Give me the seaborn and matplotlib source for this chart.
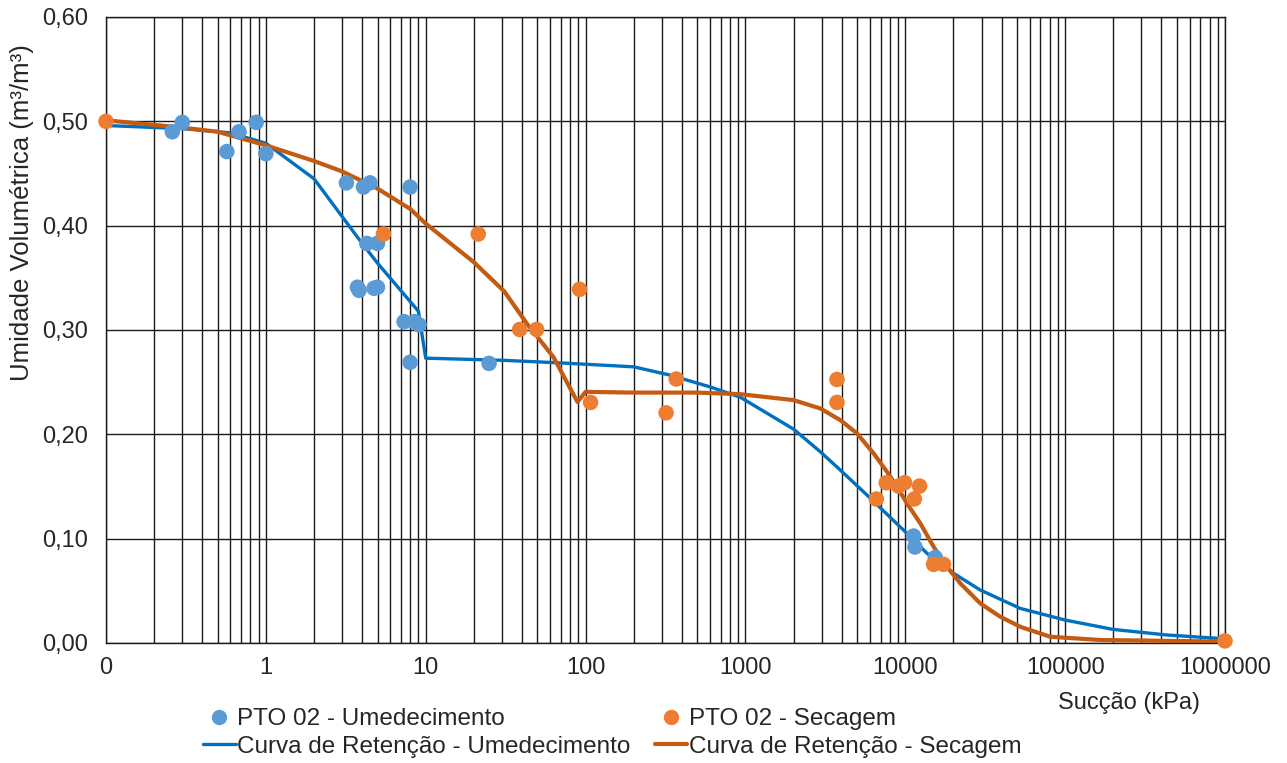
import numpy as np
import pandas as pd
import matplotlib
matplotlib.use("Agg")
import matplotlib.pyplot as plt
import seaborn as sns
from matplotlib.ticker import FixedLocator, FixedFormatter, LogLocator, NullFormatter
from matplotlib.lines import Line2D

# ---- data ----
umed_x = [0.26, 0.30, 0.57, 0.68, 0.87, 1.0, 3.19, 4.08, 4.48, 7.98, 4.28, 4.99,
          3.74, 3.83, 4.75, 4.99, 7.32, 8.53, 9.08, 7.98, 24.9, 11270, 11490, 15400]
umed_y = [0.490, 0.499, 0.471, 0.490, 0.499, 0.469, 0.441, 0.437, 0.441, 0.437, 0.383, 0.383,
          0.341, 0.338, 0.340, 0.341, 0.308, 0.308, 0.305, 0.269, 0.268, 0.1025, 0.092, 0.082]

sec_x = [0.1, 5.44, 21.3, 38.7, 49.4, 91.7, 107.5, 319, 369, 3740, 3740,
         6590, 7600, 9080, 9900, 11380, 12280, 15030, 17340, 1000000]
sec_y = [0.500, 0.392, 0.392, 0.3005, 0.3005, 0.339, 0.2306, 0.2206, 0.253, 0.2526, 0.2306,
         0.138, 0.1536, 0.1504, 0.1536, 0.138, 0.1504, 0.0754, 0.0754, 0.002]

curva_umed_x = [0.1, 0.3, 0.6, 1.0, 2.0, 4.0, 5.0, 9.0, 10, 30, 69, 200, 339, 600,
                930, 2000, 2940, 3925, 5760, 10250, 13670, 20050, 29430, 52300,
                100000, 200000, 432000, 1000000]
curva_umed_y = [0.496, 0.493, 0.489, 0.479, 0.445, 0.383, 0.364, 0.318, 0.273, 0.271, 0.2685,
                0.2647, 0.2567, 0.2455, 0.2355, 0.205, 0.1833, 0.1657, 0.1418, 0.105, 0.086,
                0.0668, 0.0508, 0.0332, 0.022, 0.013, 0.0077, 0.004]

curva_sec_x = [0.1, 0.3, 0.5, 1.0, 2.0, 3.0, 5.0, 8.0, 10, 20, 31, 43, 63, 89, 100, 200, 500,
               930, 2000, 2940, 3925, 4990, 6340, 7690, 8880, 10250, 12410, 15030, 18220,
               22080, 29430, 39250, 52300, 80600, 165000, 1000000]
curva_sec_y = [0.501, 0.494, 0.490, 0.477, 0.462, 0.452, 0.4355, 0.416, 0.402, 0.365, 0.337,
               0.306, 0.274, 0.231, 0.2407, 0.240, 0.240, 0.2385, 0.2328, 0.2248, 0.2136,
               0.2009, 0.1817, 0.164, 0.1497, 0.1338, 0.1147, 0.0923, 0.0731, 0.0572, 0.038,
               0.0252, 0.0156, 0.006, 0.0029, 0.0013]

x_ticks = [0.1, 1, 10, 100, 1000, 10000, 100000, 1000000]
x_ticklabels = ["0", "1", "10", "100", "1000", "10000", "100000", "1000000"]
y_ticks = [0.0, 0.1, 0.2, 0.3, 0.4, 0.5, 0.6]
y_ticklabels = ["0,00", "0,10", "0,20", "0,30", "0,40", "0,50", "0,60"]

lab_pts_umed = "PTO 02 - Umedecimento"
lab_pts_sec = "PTO 02 - Secagem"
lab_cur_umed = "Curva de Retenção - Umedecimento"
lab_cur_sec = "Curva de Retenção - Secagem"

# ---- style ----
sns.set_theme(style="white")
plt.rcParams['font.family'] = ['Liberation Sans', 'DejaVu Sans']

c_pts_umed = "#5B9BD5"
c_pts_sec = "#ED7D31"
c_cur_umed = "#0070C0"
c_cur_sec = "#C55A11"
txt_col = "#262626"
FS = 17

fig = plt.figure(figsize=(12.87, 7.63), dpi=100)
ax = fig.add_axes([106/1287, 1 - 643/763, (1225 - 106)/1287, (643 - 17)/763])
ax.set_xscale("log")
ax.set_xlim(0.1, 1000000)
ax.set_ylim(0, 0.6)

# grid
ax.xaxis.set_major_locator(FixedLocator(x_ticks))
ax.xaxis.set_major_formatter(FixedFormatter(x_ticklabels))
ax.xaxis.set_minor_locator(LogLocator(base=10, subs=np.arange(2, 10), numticks=100))
ax.xaxis.set_minor_formatter(NullFormatter())
ax.yaxis.set_major_locator(FixedLocator(y_ticks))
ax.yaxis.set_major_formatter(FixedFormatter(y_ticklabels))
ax.grid(True, which="both", axis="x", color="#1a1a1a", linewidth=1.0)
ax.grid(True, which="major", axis="y", color="#1a1a1a", linewidth=1.0)
ax.set_axisbelow(True)
for s in ax.spines.values():
    s.set_color("#1a1a1a")
    s.set_linewidth(1.0)

df_cu = pd.DataFrame({"x": curva_umed_x, "y": curva_umed_y})
df_cs = pd.DataFrame({"x": curva_sec_x, "y": curva_sec_y})
df_pu = pd.DataFrame({"x": umed_x, "y": umed_y})
df_ps = pd.DataFrame({"x": sec_x, "y": sec_y})

sns.lineplot(data=df_cu, x="x", y="y", ax=ax, sort=False, estimator=None,
             color=c_cur_umed, linewidth=2.4, zorder=3)
sns.lineplot(data=df_cs, x="x", y="y", ax=ax, sort=False, estimator=None,
             color=c_cur_sec, linewidth=3.0, zorder=3)
sns.scatterplot(data=df_pu, x="x", y="y", ax=ax, color=c_pts_umed, s=125,
                edgecolor="none", linewidth=0, zorder=4, clip_on=False)
sns.scatterplot(data=df_ps, x="x", y="y", ax=ax, color=c_pts_sec, s=125,
                edgecolor="none", linewidth=0, zorder=5, clip_on=False)

ax.tick_params(axis="both", which="both", length=0, labelsize=FS, colors=txt_col)
ax.tick_params(axis="x", pad=10)
ax.tick_params(axis="y", pad=13)
ax.set_xlabel("")
ax.set_ylabel("")

fig.text(1129/1287, 1 - 703/763, "Sucção (kPa)", ha="center", va="center",
         fontsize=FS, color=txt_col)
fig.text(22/1287, 1 - 213/763, "Umidade Volumétrica (m³/m³)", ha="center", va="center",
         rotation=90, fontsize=18.5, color=txt_col)

handles = [
    Line2D([], [], linestyle="none", marker="o", markersize=10, color=c_pts_umed),
    Line2D([], [], color=c_cur_umed, linewidth=2.4),
    Line2D([], [], linestyle="none", marker="o", markersize=10, color=c_pts_sec),
    Line2D([], [], color=c_cur_sec, linewidth=3.0),
]
labels = [lab_pts_umed, lab_cur_umed, lab_pts_sec, lab_cur_sec]
leg = fig.legend(handles, labels, ncol=2, loc="center",
                 bbox_to_anchor=(612/1287, 1 - 733/763), frameon=False,
                 fontsize=17.5, handlelength=1.35, handletextpad=0.05,
                 columnspacing=1.0, labelspacing=0.22, borderaxespad=0)
for t in leg.get_texts():
    t.set_color(txt_col)

fig.savefig("out.png", dpi=100, facecolor="white")
